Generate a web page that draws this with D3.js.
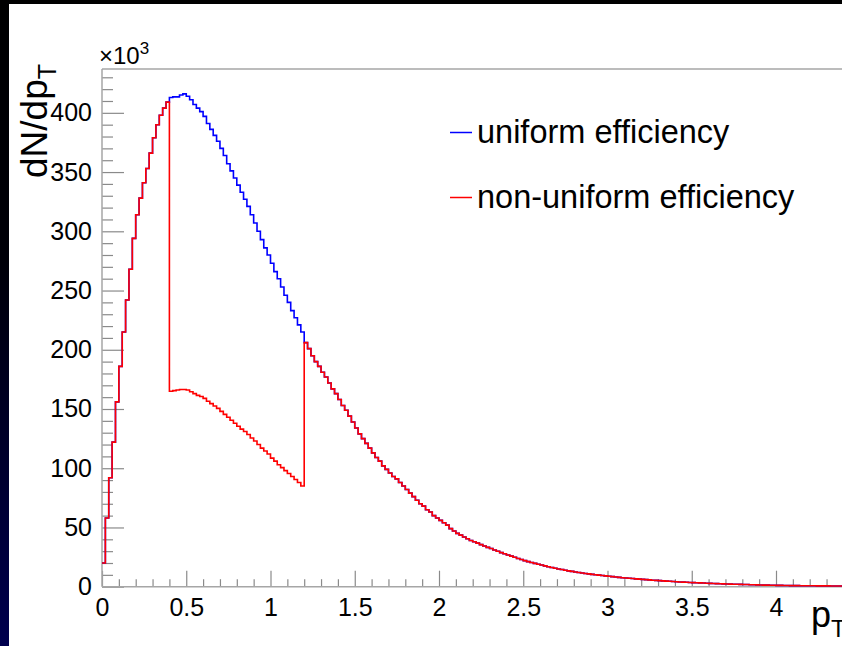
<!DOCTYPE html>
<html>
<head>
<meta charset="utf-8">
<script src="https://cdn.jsdelivr.net/npm/d3@7"></script>
<style>
  html, body { margin: 0; padding: 0; background: #fff; }
  svg { display: block; }
  text { font-family: "Liberation Sans", Arial, Helvetica, sans-serif; fill: #000; }
</style>
</head>
<body>
<svg id="chart" width="842" height="646"></svg>
<script>
// Histogram binning (pT, GeV/c)
const binWidth = 0.02;
const binCount = 250;

// dN/dpT in units of 10^3, one value per bin, uniform efficiency
const uniform = [
  20, 58, 92, 122, 156, 186, 215, 242, 268, 294,
  314, 328, 341, 353, 366, 379, 390, 398, 404, 409,
  413, 413.5, 413.5, 415, 416, 414, 411, 407, 404, 401,
  397, 391, 386, 381, 376, 370, 364, 357, 351, 345,
  339, 333, 327, 321, 314, 307, 300, 293, 286, 280,
  273, 266, 260, 253, 246, 240, 233, 227, 221, 215,
  206, 201, 195, 190, 186, 181, 177, 172, 167, 163,
  158, 153, 149, 144, 139, 134, 129, 125, 121, 117,
  113, 109, 106, 102, 99, 96, 93, 91, 88, 85,
  82, 79, 76, 73, 70, 68, 65, 63, 60, 58,
  56, 54, 52, 49, 47, 45, 43.5, 42, 40.5, 39,
  38, 36.8, 35.5, 34.3, 33.2, 32.2, 31, 29.9, 28.8, 27.8,
  26.8, 25.8, 24.8, 23.8, 22.9, 22, 21.2, 20.4, 19.7, 19,
  18.3, 17.6, 16.9, 16.2, 15.6, 15, 14.5, 13.9, 13.4, 12.9,
  12.4, 12, 11.6, 11.2, 10.8, 10.4, 10.1, 9.8, 9.4, 9.1,
  8.8, 8.5, 8.2, 7.9, 7.6, 7.3, 7.1, 6.9, 6.6, 6.4,
  6.2, 6.0, 5.8, 5.5, 5.3, 5.1, 4.9, 4.7, 4.6, 4.4,
  4.2, 4.0, 3.9, 3.7, 3.6, 3.4, 3.3, 3.2, 3.1, 2.9,
  2.8, 2.7, 2.6, 2.5, 2.4, 2.3, 2.2, 2.1, 2.05, 2.0,
  1.9, 1.8, 1.7, 1.6, 1.5, 1.4, 1.35, 1.3, 1.25, 1.2,
  1.15, 1.1, 1.05, 1.0, 0.95, 0.9, 0.88, 0.85, 0.82, 0.8,
  0.77, 0.75, 0.72, 0.7, 0.68, 0.66, 0.64, 0.62, 0.6, 0.58,
  0.56, 0.54, 0.53, 0.51, 0.5, 0.48, 0.47, 0.45, 0.44, 0.43,
  0.41, 0.4, 0.39, 0.38, 0.37, 0.36, 0.35, 0.34, 0.33, 0.32,
  0.31, 0.3, 0.29, 0.28, 0.27, 0.27, 0.26, 0.25, 0.24, 0.24
];

// dN/dpT in units of 10^3, non-uniform efficiency (reduced between 0.4 and 1.2)
const nonUniform = [
  20, 58, 92, 122, 156, 186, 215, 242, 268, 294,
  314, 328, 341, 353, 366, 379, 390, 398, 404, 409,
  165, 165.5, 166, 166.5, 166.5, 166, 164.5, 163, 161.5, 160.5,
  159, 156.5, 154.5, 152.5, 150.5, 148, 145.5, 143, 140.5, 138,
  135.5, 133, 131, 128.5, 125.5, 123, 120, 117, 114.5, 112,
  108.5, 106, 103, 100.5, 98, 95.5, 93, 90.5, 88, 85,
  206, 201, 195, 190, 186, 181, 177, 172, 167, 163,
  158, 153, 149, 144, 139, 134, 129, 125, 121, 117,
  113, 109, 106, 102, 99, 96, 93, 91, 88, 85,
  82, 79, 76, 73, 70, 68, 65, 63, 60, 58,
  56, 54, 52, 49, 47, 45, 43.5, 42, 40.5, 39,
  38, 36.8, 35.5, 34.3, 33.2, 32.2, 31, 29.9, 28.8, 27.8,
  26.8, 25.8, 24.8, 23.8, 22.9, 22, 21.2, 20.4, 19.7, 19,
  18.3, 17.6, 16.9, 16.2, 15.6, 15, 14.5, 13.9, 13.4, 12.9,
  12.4, 12, 11.6, 11.2, 10.8, 10.4, 10.1, 9.8, 9.4, 9.1,
  8.8, 8.5, 8.2, 7.9, 7.6, 7.3, 7.1, 6.9, 6.6, 6.4,
  6.2, 6.0, 5.8, 5.5, 5.3, 5.1, 4.9, 4.7, 4.6, 4.4,
  4.2, 4.0, 3.9, 3.7, 3.6, 3.4, 3.3, 3.2, 3.1, 2.9,
  2.8, 2.7, 2.6, 2.5, 2.4, 2.3, 2.2, 2.1, 2.05, 2.0,
  1.9, 1.8, 1.7, 1.6, 1.5, 1.4, 1.35, 1.3, 1.25, 1.2,
  1.15, 1.1, 1.05, 1.0, 0.95, 0.9, 0.88, 0.85, 0.82, 0.8,
  0.77, 0.75, 0.72, 0.7, 0.68, 0.66, 0.64, 0.62, 0.6, 0.58,
  0.56, 0.54, 0.53, 0.51, 0.5, 0.48, 0.47, 0.45, 0.44, 0.43,
  0.41, 0.4, 0.39, 0.38, 0.37, 0.36, 0.35, 0.34, 0.33, 0.32,
  0.31, 0.3, 0.29, 0.28, 0.27, 0.27, 0.26, 0.25, 0.24, 0.24
];

const xMajorTicks = [0, 0.5, 1, 1.5, 2, 2.5, 3, 3.5, 4, 4.5, 5];
const xLabelValues = [0, 0.5, 1, 1.5, 2, 2.5, 3, 3.5, 4];
const xTickLabels = ["0", "0.5", "1", "1.5", "2", "2.5", "3", "3.5", "4"];
const yMajorTicks = [0, 50, 100, 150, 200, 250, 300, 350, 400];
const seriesNames = ["uniform efficiency", "non-uniform efficiency"];
const seriesColors = ["#0000ff", "#ff0000"];

const W = 842, H = 646;
const svg = d3.select("#chart");

// dark window edge on the left and top
const defs = svg.append("defs");
const grad = defs.append("linearGradient").attr("id", "edgeGrad")
  .attr("x1", 0).attr("y1", 0).attr("x2", 0).attr("y2", 1);
grad.append("stop").attr("offset", "0%").attr("stop-color", "#000000");
grad.append("stop").attr("offset", "40%").attr("stop-color", "#000008");
grad.append("stop").attr("offset", "100%").attr("stop-color", "#00004e");
svg.append("rect").attr("x", 0).attr("y", 0).attr("width", 9).attr("height", H).attr("fill", "url(#edgeGrad)");
svg.append("rect").attr("x", 0).attr("y", 0).attr("width", W).attr("height", 4).attr("fill", "#000");

// scales
const x = d3.scaleLinear().domain([0, 5]).range([102, 944.5]);
const y = d3.scaleLinear().domain([0, 437]).range([586.7, 69]);

const tickColor = "#8a8a8a";
const frameColor = "#a6a6a6";
const labelFont = '"Liberation Sans", Arial, sans-serif';

// minor / major ticks drawn inside the frame
const yMinor = d3.range(0, 437, 10).filter(v => v % 50 !== 0);
const xMinor = d3.range(0, 51, 1).map(i => i / 10).filter(v => Math.abs(v * 2 - Math.round(v * 2)) > 1e-6);

function styleTicks(sel) {
  sel.select(".domain").remove();
  sel.selectAll(".tick line").attr("stroke", tickColor).attr("stroke-width", 1.2);
}

svg.append("g").attr("transform", `translate(${x(0)},0)`)
  .call(d3.axisRight(y).tickValues(yMinor).tickSize(11).tickFormat(""))
  .call(styleTicks);
svg.append("g").attr("transform", `translate(${x(0)},0)`)
  .call(d3.axisRight(y).tickValues(yMajorTicks).tickSize(22).tickFormat(""))
  .call(styleTicks);
svg.append("g").attr("transform", `translate(0,${y(0)})`)
  .call(d3.axisTop(x).tickValues(xMinor).tickSize(7.5).tickFormat(""))
  .call(styleTicks);
svg.append("g").attr("transform", `translate(0,${y(0)})`)
  .call(d3.axisTop(x).tickValues(xMajorTicks).tickSize(16).tickFormat(""))
  .call(styleTicks);

// tick labels
const yLab = svg.append("g").attr("transform", `translate(${x(0)},0)`)
  .call(d3.axisLeft(y).tickValues(yMajorTicks).tickSize(0).tickPadding(10));
yLab.select(".domain").remove();
yLab.selectAll("text").style("font-size", "25px").attr("fill", "#000").style("font-family", labelFont);

const xLab = svg.append("g").attr("transform", `translate(0,${y(0)})`)
  .call(d3.axisBottom(x).tickValues(xLabelValues).tickSize(0).tickPadding(12)
    .tickFormat((d, i) => xTickLabels[i]));
xLab.select(".domain").remove();
xLab.selectAll("text").style("font-size", "25px").attr("fill", "#000").style("font-family", labelFont);

// frame lines
const frame = svg.append("g").attr("stroke", frameColor).attr("stroke-width", 1.5).attr("fill", "none");
frame.append("line").attr("x1", x(0)).attr("x2", x(5)).attr("y1", y(437)).attr("y2", y(437));
frame.append("line").attr("x1", x(0)).attr("x2", x(5)).attr("y1", y(0)).attr("y2", y(0));
frame.append("line").attr("x1", x(0)).attr("x2", x(0)).attr("y1", y(0)).attr("y2", y(437));

// histograms as step outlines
function histPoints(values) {
  const pts = values.map((v, i) => ({ edge: i * binWidth, v }));
  pts.push({ edge: binCount * binWidth, v: values[values.length - 1] });
  return pts;
}
const stepLine = d3.line()
  .x(d => x(d.edge))
  .y(d => y(d.v))
  .curve(d3.curveStepAfter);

[uniform, nonUniform].forEach((vals, i) => {
  svg.append("path")
    .datum(histPoints(vals))
    .attr("d", stepLine)
    .attr("fill", "none")
    .attr("stroke", seriesColors[i])
    .attr("stroke-width", 1.6)
    .attr("stroke-linejoin", "miter");
});

// exponent label
const expo = svg.append("text").attr("x", 99).attr("y", 64).style("font-size", "24px");
expo.append("tspan").text("\u00d710");
expo.append("tspan").attr("dy", -10).style("font-size", "17px").text("3");

// axis titles
const yTitle = svg.append("text")
  .attr("transform", "translate(47,64) rotate(-90)")
  .attr("text-anchor", "end")
  .style("font-size", "37px");
yTitle.append("tspan").text("dN/dp");
yTitle.append("tspan").attr("dy", 9).style("font-size", "25px").text("T");

const xTitle = svg.append("text")
  .attr("x", 811).attr("y", 627)
  .style("font-size", "36px");
xTitle.append("tspan").text("p");
xTitle.append("tspan").attr("dy", 10).style("font-size", "24px").text("T");

// legend
const legend = svg.append("g");
seriesNames.forEach((name, i) => {
  const ly = 132.5 + i * 65;
  legend.append("line")
    .attr("x1", 450).attr("x2", 472).attr("y1", ly).attr("y2", ly)
    .attr("stroke", seriesColors[i]).attr("stroke-width", 1.5);
  legend.append("text")
    .attr("x", 477).attr("y", ly + 10)
    .style("font-size", "32.5px")
    .text(name);
});
</script>
</body>
</html>
